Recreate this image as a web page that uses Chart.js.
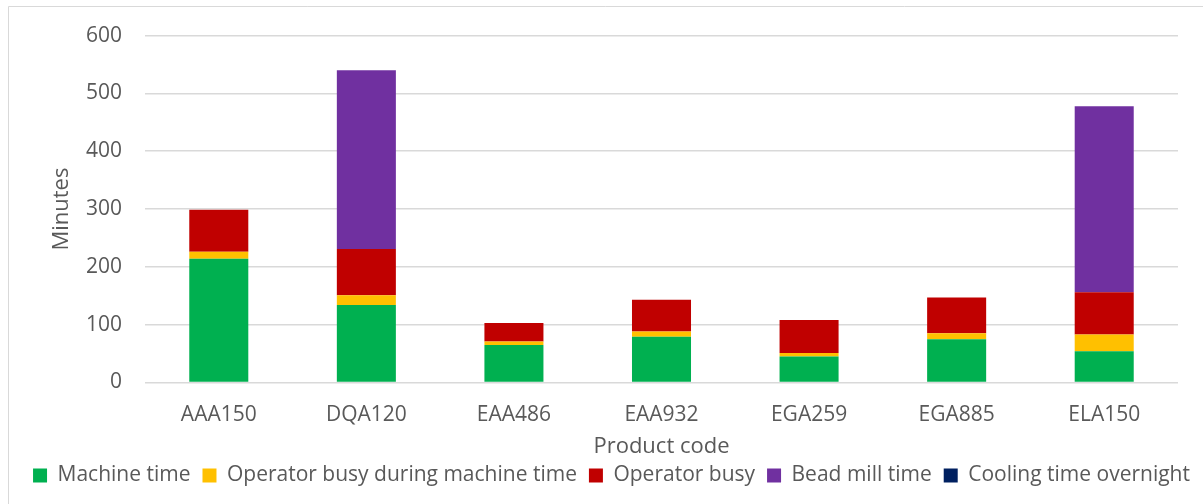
<!DOCTYPE html>
<html>
<head>
<meta charset="utf-8">
<script src="https://cdn.jsdelivr.net/npm/chart.js@4"></script>
<style>
  html, body { margin: 0; padding: 0; background: #ffffff; }
  #wrap { position: relative; width: 1203px; height: 504px; }
</style>
</head>
<body>
<div id="wrap"><canvas id="c" width="1203" height="504"></canvas></div>
<script>
const categories = ["AAA150", "DQA120", "EAA486", "EAA932", "EGA259", "EGA885", "ELA150"];
const machineTime = [214, 134, 65, 79, 45, 75, 54];
const operatorBusyDuringMachine = [12, 17, 6, 9, 6, 10, 29];
const operatorBusy = [73, 80, 32, 55, 57, 62, 73];
const beadMillTime = [0, 309, 0, 0, 0, 0, 322];
const coolingTimeOvernight = [0, 0, 0, 0, 0, 0, 0];
const seriesNames = ["Machine time", "Operator busy during machine time", "Operator busy", "Bead mill time", "Cooling time overnight"];
const seriesColors = ["#00B050", "#FFC000", "#C00000", "#7030A0", "#002060"];
const yTicks = [0, 100, 200, 300, 400, 500, 600];

const FONT = "'Open Sans', 'DejaVu Sans', sans-serif";
const TEXT = "#595959";

const borderPlugin = {
  id: 'outerBorder',
  beforeDraw(chart) {
    const ctx = chart.ctx;
    ctx.save();
    ctx.fillStyle = '#ffffff';
    ctx.fillRect(0, 0, chart.width, chart.height);
    ctx.strokeStyle = '#d9d9d9';
    ctx.lineWidth = 1;
    ctx.beginPath();
    ctx.moveTo(8.5, chart.height);
    ctx.lineTo(8.5, 6.5);
    ctx.lineTo(chart.width, 6.5);
    ctx.stroke();
    ctx.restore();
  }
};

const allSeries = [machineTime, operatorBusyDuringMachine, operatorBusy, beadMillTime, coolingTimeOvernight];

new Chart(document.getElementById('c'), {
  type: 'bar',
  data: {
    labels: categories,
    datasets: allSeries.map((d, i) => ({
      label: seriesNames[i],
      data: d,
      backgroundColor: seriesColors[i],
      borderWidth: 0,
      barPercentage: 0.4,
      categoryPercentage: 1.0
    }))
  },
  options: {
    responsive: false,
    animation: false,
    devicePixelRatio: 1,
    layout: { padding: { left: 20, right: 0, top: 35, bottom: 8 } },
    plugins: {
      tooltip: { enabled: false },
      legend: {
        position: 'bottom',
        labels: {
          font: { family: FONT, size: 21 },
          color: TEXT,
          boxWidth: 14,
          boxHeight: 14,
          padding: 12
        }
      }
    },
    scales: {
      x: {
        stacked: true,
        grid: { display: false },
        border: { display: false },
        ticks: { font: { family: FONT, size: 21 }, color: TEXT, padding: 11.5 },
        title: { display: true, text: 'Product code', font: { family: FONT, size: 22 }, color: TEXT, padding: { top: 0, bottom: -7 } },
        afterFit(scale) { scale.height = 70.5; }
      },
      y: {
        stacked: true,
        min: 0,
        max: 600,
        afterBuildTicks(scale) { scale.ticks = yTicks.map(v => ({ value: v })); },
        grid: { color: '#d9d9d9', lineWidth: 1.5, drawTicks: false },
        border: { display: false },
        ticks: { font: { family: FONT, size: 21 }, color: TEXT, padding: 23 },
        title: { display: true, text: 'Minutes', font: { family: FONT, size: 22 }, color: TEXT, padding: { top: 29, bottom: 0 } },
        afterFit(scale) { scale.width = 125; }
      },
      yRightSpace: {
        position: 'right',
        display: true,
        grid: { display: false, drawTicks: false },
        border: { display: false },
        ticks: { display: false },
        afterFit(scale) { scale.width = 25; }
      }
    }
  },
  plugins: [borderPlugin]
});
</script>
</body>
</html>
